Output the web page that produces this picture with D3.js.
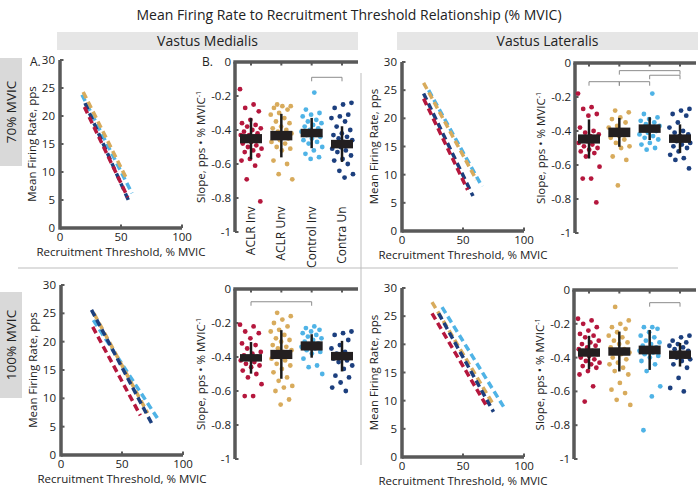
<!DOCTYPE html>
<html><head><meta charset="utf-8">
<script src="https://cdn.jsdelivr.net/npm/d3@7"></script>
<style>
body{margin:0;background:#fff;}
text{font-family:"Open Sans","Lato",sans-serif;fill:#222;}
</style></head>
<body><svg id="c" width="698" height="490"></svg>
<script>
// ---------- DATA ----------
const groups = ["ACLR Inv","ACLR Unv","Control Inv","Contra Un"];
const groupColors = ["#b5173d","#d8ab5c","#4fb3e6","#1c3f7e"];
const rateXTicks = [0,50,100];
const rateYTicks = [0,5,10,15,20,25,30];
const slopeTicks = [0,-0.2,-0.4,-0.6,-0.8,-1];
const slopeTickLabels = ["0","-0.2","-0.4","-0.6","-0.8","-1"];

// regression lines [rtStart, rateStart, rtEnd, rateEnd] per group
const lines70VM  = [[20,21.6,55.5,5.5],[19,24.3,55,8.6],[18,23.8,59,6.2],[20.5,22.3,56,5.0]];
const lines70VL  = [[17.7,23.5,53.8,7.3],[17.7,26.3,60.9,9.1],[21.8,25.0,65.6,7.9],[17.7,24.4,58.2,6.2]];
const lines100VM = [[26,22.6,65,7.0],[27,25.0,71,7.4],[26.5,23.8,79,6.5],[25,25.6,75,5.3]];
const lines100VL = [[24.6,25.5,69.7,8.9],[24.6,27.5,74.6,9.4],[32.8,26.6,83.9,8.7],[30,25.5,75,8.0]];

// slope summaries: mean, SE, SD per group
const mean70VM = [-0.451,-0.433,-0.418,-0.483];
const se70VM   = [0.027,0.028,0.025,0.025];
const sd70VM   = [0.121,0.128,0.089,0.105];
const mean70VL = [-0.447,-0.408,-0.386,-0.445];
const se70VL   = [0.027,0.028,0.025,0.025];
const sd70VL   = [0.115,0.085,0.067,0.084];
const mean100VM = [-0.405,-0.385,-0.335,-0.395];
const se100VM   = [0.022,0.027,0.027,0.025];
const sd100VM   = [0.093,0.143,0.069,0.09];
const mean100VL = [-0.370,-0.364,-0.355,-0.383];
const se100VL   = [0.025,0.025,0.026,0.025];
const sd100VL   = [0.099,0.118,0.118,0.07];

// individual slopes
const pts70VM = [
 [-0.16,-0.25,-0.27,-0.29,-0.34,-0.36,-0.37,-0.38,-0.39,-0.40,-0.41,-0.42,-0.43,-0.43,-0.44,-0.45,-0.46,-0.47,-0.48,-0.49,-0.50,-0.51,-0.52,-0.53,-0.55,-0.57,-0.58,-0.61,-0.69,-0.82],
 [-0.25,-0.26,-0.26,-0.27,-0.28,-0.30,-0.31,-0.33,-0.35,-0.36,-0.38,-0.39,-0.40,-0.41,-0.42,-0.43,-0.44,-0.45,-0.46,-0.47,-0.48,-0.50,-0.51,-0.52,-0.58,-0.60,-0.66,-0.69],
 [-0.18,-0.28,-0.30,-0.31,-0.32,-0.34,-0.35,-0.36,-0.37,-0.38,-0.39,-0.40,-0.41,-0.42,-0.43,-0.44,-0.45,-0.46,-0.47,-0.48,-0.50,-0.52,-0.54,-0.56,-0.57],
 [-0.24,-0.25,-0.27,-0.31,-0.32,-0.33,-0.35,-0.38,-0.40,-0.42,-0.43,-0.44,-0.45,-0.46,-0.47,-0.48,-0.49,-0.50,-0.51,-0.52,-0.53,-0.55,-0.57,-0.58,-0.60,-0.64,-0.66,-0.68]
];
const pts70VL = [
 [-0.18,-0.26,-0.27,-0.30,-0.31,-0.38,-0.40,-0.41,-0.42,-0.43,-0.44,-0.45,-0.46,-0.47,-0.48,-0.49,-0.50,-0.51,-0.52,-0.53,-0.55,-0.61,-0.68,-0.68,-0.82],
 [-0.28,-0.29,-0.32,-0.33,-0.35,-0.37,-0.38,-0.40,-0.41,-0.42,-0.43,-0.44,-0.45,-0.47,-0.49,-0.50,-0.55,-0.57,-0.72],
 [-0.18,-0.30,-0.32,-0.33,-0.34,-0.35,-0.36,-0.37,-0.38,-0.39,-0.40,-0.41,-0.42,-0.43,-0.44,-0.45,-0.47,-0.48,-0.50,-0.51],
 [-0.27,-0.28,-0.30,-0.31,-0.35,-0.38,-0.40,-0.41,-0.42,-0.43,-0.44,-0.45,-0.46,-0.47,-0.48,-0.49,-0.50,-0.52,-0.54,-0.56,-0.57,-0.62]
];
const pts100VM = [
 [-0.21,-0.22,-0.25,-0.26,-0.29,-0.32,-0.33,-0.35,-0.37,-0.38,-0.39,-0.40,-0.41,-0.42,-0.43,-0.44,-0.45,-0.46,-0.48,-0.50,-0.52,-0.56,-0.63,-0.63],
 [-0.14,-0.16,-0.18,-0.20,-0.22,-0.24,-0.25,-0.27,-0.29,-0.30,-0.31,-0.33,-0.34,-0.35,-0.36,-0.37,-0.38,-0.39,-0.40,-0.41,-0.42,-0.44,-0.45,-0.47,-0.49,-0.52,-0.54,-0.57,-0.58,-0.60,-0.65,-0.68],
 [-0.22,-0.23,-0.24,-0.25,-0.26,-0.27,-0.28,-0.29,-0.30,-0.31,-0.32,-0.33,-0.34,-0.35,-0.36,-0.37,-0.38,-0.41,-0.45,-0.46,-0.50],
 [-0.25,-0.26,-0.27,-0.30,-0.33,-0.35,-0.37,-0.38,-0.39,-0.40,-0.41,-0.42,-0.43,-0.45,-0.47,-0.51,-0.52,-0.55,-0.58,-0.60]
];
const pts100VL = [
 [-0.17,-0.18,-0.20,-0.22,-0.24,-0.26,-0.27,-0.28,-0.30,-0.31,-0.32,-0.33,-0.34,-0.35,-0.36,-0.37,-0.38,-0.39,-0.40,-0.41,-0.42,-0.43,-0.44,-0.45,-0.46,-0.48,-0.50,-0.57,-0.66],
 [-0.10,-0.18,-0.20,-0.22,-0.23,-0.25,-0.27,-0.28,-0.30,-0.31,-0.32,-0.34,-0.35,-0.36,-0.37,-0.38,-0.40,-0.41,-0.43,-0.44,-0.46,-0.48,-0.50,-0.55,-0.59,-0.61,-0.65,-0.68],
 [-0.22,-0.22,-0.23,-0.25,-0.27,-0.28,-0.30,-0.31,-0.32,-0.33,-0.34,-0.35,-0.36,-0.37,-0.38,-0.39,-0.40,-0.42,-0.44,-0.48,-0.57,-0.63,-0.83],
 [-0.27,-0.28,-0.30,-0.31,-0.32,-0.33,-0.34,-0.35,-0.36,-0.37,-0.38,-0.39,-0.40,-0.41,-0.42,-0.44,-0.46,-0.52,-0.58,-0.60]
];

// significance brackets [groupA, groupB, level]
const sig70VM  = [[2,3,-0.09]];
const sig70VL  = [[1,3,-0.045],[2,3,-0.072],[0,1,-0.11],[1,2,-0.11]];
const sig100VM = [[0,2,-0.075]];
const sig100VL = [[2,3,-0.075]];

// ---------- DRAW ----------
const svg = d3.select("#c");
const AX = "#595959";

svg.append("text").attr("x",349).attr("y",20).attr("text-anchor","middle")
  .style("font-size","14px").text("Mean Firing Rate to Recruitment Threshold Relationship (% MVIC)");

[[57,358,"Vastus Medialis"],[397,698,"Vastus Lateralis"]].forEach(([a,b,t])=>{
  svg.append("rect").attr("x",a).attr("y",32).attr("width",b-a).attr("height",18).attr("fill","#e6e6e6");
  svg.append("text").attr("x",(a+b)/2).attr("y",46).attr("text-anchor","middle").style("font-size","14px").text(t);
});
[[58,166,"70% MVIC"],[292,398,"100% MVIC"]].forEach(([a,b,t])=>{
  svg.append("rect").attr("x",0).attr("y",a).attr("width",22).attr("height",b-a).attr("fill","#d9d9d9");
  svg.append("text").attr("transform",`translate(16,${(a+b)/2}) rotate(-90)`).attr("text-anchor","middle")
    .style("font-size","13.5px").text(t);
});
svg.append("line").attr("x1",18).attr("x2",678).attr("y1",268).attr("y2",268).attr("stroke","#bdbdbd").attr("stroke-width",1);
svg.append("line").attr("x1",361).attr("x2",361).attr("y1",73).attr("y2",465).attr("stroke","#bdbdbd").attr("stroke-width",1);

svg.append("text").attr("x",30).attr("y",66).style("font-size","12px").text("A.");
svg.append("text").attr("x",202).attr("y",66).style("font-size","12px").text("B.");

function ratePanel(p, lines){
  const x = d3.scaleLinear().domain([0,100]).range([p.x0,p.x1]);
  const y = d3.scaleLinear().domain([0,30]).range([p.y0,p.y1]);
  const g = svg.append("g");
  g.append("line").attr("x1",x(0)).attr("x2",x(100)).attr("y1",y(0)).attr("y2",y(0)).attr("stroke",AX).attr("stroke-width",3.5);
  g.append("line").attr("x1",x(0)).attr("x2",x(0)).attr("y1",y(0)+1.7).attr("y2",y(30)).attr("stroke",AX).attr("stroke-width",3.5);
  rateYTicks.forEach(t=>{
    g.append("line").attr("x1",x(0)).attr("x2",x(0)+3.5).attr("y1",y(t)).attr("y2",y(t)).attr("stroke",AX).attr("stroke-width",2);
    g.append("text").attr("x",x(0)-5).attr("y",y(t)+4).attr("text-anchor","end").style("font-size","11.5px").text(t);
  });
  rateXTicks.forEach(t=>{
    g.append("line").attr("x1",x(t)).attr("x2",x(t)).attr("y1",y(0)).attr("y2",y(0)-3.5).attr("stroke",AX).attr("stroke-width",2);
    g.append("text").attr("x",x(t)).attr("y",y(0)+13).attr("text-anchor","middle").style("font-size","11.5px").text(t);
  });
  g.append("text").attr("x",(x(0)+x(100))/2).attr("y",y(0)+28).attr("text-anchor","middle").style("font-size","11.5px").text("Recruitment Threshold, % MVIC");
  g.append("text").attr("transform",`translate(${x(0)-24},${(y(0)+y(30))/2}) rotate(-90)`).attr("text-anchor","middle").style("font-size","11.5px").text("Mean Firing Rate, pps");
  [2,1,3,0].forEach(i=>{
    const l = lines[i];
    g.append("line").attr("x1",x(l[0])).attr("y1",y(l[1])).attr("x2",x(l[2])).attr("y2",y(l[3]))
      .attr("stroke",groupColors[i]).attr("stroke-width",3.5).attr("stroke-dasharray","7,4");
  });
}

function slopePanel(p, pts, mean, se, sd, sig, showCats){
  const y = d3.scaleLinear().domain([0,-1]).range([p.y0,p.y1]);
  const x = d3.scalePoint().domain(groups).range([p.c0,p.c1]);
  const g = svg.append("g");
  g.append("line").attr("x1",p.ax).attr("x2",p.ax).attr("y1",y(0)).attr("y2",y(-1)).attr("stroke",AX).attr("stroke-width",3.5);
  g.append("line").attr("x1",p.ax-1.7).attr("x2",p.xe).attr("y1",y(0)).attr("y2",y(0)).attr("stroke",AX).attr("stroke-width",3.5);
  slopeTicks.forEach((t,i)=>{
    g.append("line").attr("x1",p.ax).attr("x2",p.ax+3.5).attr("y1",y(t)).attr("y2",y(t)).attr("stroke",AX).attr("stroke-width",2);
    g.append("text").attr("x",p.ax-4).attr("y",y(t)+4).attr("text-anchor","end").style("font-size","11.5px").text(slopeTickLabels[i]);
  });
  groups.forEach(c=>{
    g.append("line").attr("x1",x(c)).attr("x2",x(c)).attr("y1",y(0)).attr("y2",y(0)+3.5).attr("stroke",AX).attr("stroke-width",2);
  });
  const lab = g.append("text").attr("transform",`translate(${p.ax-30},${(y(0)+y(-1))/2}) rotate(-90)`).attr("text-anchor","middle").style("font-size","11.5px");
  lab.append("tspan").text("Slope, pps • % MVIC");
  lab.append("tspan").attr("dy",-4).style("font-size","7px").text("-1");
  sig.forEach(([a,b,v])=>{
    const xa=x(groups[a]), xb=x(groups[b]), yy=y(v);
    g.append("path").attr("d",`M${xa},${yy+4}V${yy}H${xb}V${yy+4}`).attr("fill","none").attr("stroke","#8c8c8c").attr("stroke-width",1);
  });
  pts.forEach((arr,gi)=>{
    arr.forEach((v,i)=>{
      const j = (((i*0.6180339887+gi*0.31)%1)-0.5)*22;
      g.append("circle").attr("cx",x(groups[gi])+j).attr("cy",y(v)).attr("r",2.4).attr("fill",groupColors[gi]);
    });
  });
  groups.forEach((c,gi)=>{
    g.append("line").attr("x1",x(c)).attr("x2",x(c)).attr("y1",y(mean[gi]+sd[gi])).attr("y2",y(mean[gi]-sd[gi])).attr("stroke","#1a1a1a").attr("stroke-width",2.5);
    g.append("rect").attr("x",x(c)-11).attr("width",22).attr("y",y(mean[gi]+se[gi])).attr("height",y(mean[gi]-se[gi])-y(mean[gi]+se[gi])).attr("fill","#231f20");
  });
  if(showCats){
    groups.forEach(c=>{
      g.append("text").attr("transform",`translate(${x(c)+4},${y(-0.85)}) rotate(-90)`).attr("text-anchor","end").style("font-size","12px").text(c);
    });
  }
}

ratePanel({x0:60,x1:182,y0:228,y1:60}, lines70VM);
ratePanel({x0:402,x1:524,y0:231,y1:62}, lines70VL);
ratePanel({x0:61,x1:183,y0:455,y1:285}, lines100VM);
ratePanel({x0:402,x1:524,y0:457,y1:288}, lines100VL);

slopePanel({ax:235,xe:358,y0:62,y1:232,c0:251,c1:342}, pts70VM, mean70VM, se70VM, sd70VM, sig70VM, true);
slopePanel({ax:575,xe:696,y0:63,y1:233,c0:589,c1:680}, pts70VL, mean70VL, se70VL, sd70VL, sig70VL, false);
slopePanel({ax:235,xe:358,y0:289,y1:459,c0:251,c1:342}, pts100VM, mean100VM, se100VM, sd100VM, sig100VM, false);
slopePanel({ax:574,xe:696,y0:290,y1:459,c0:589,c1:680}, pts100VL, mean100VL, se100VL, sd100VL, sig100VL, false);
</script></body></html>
